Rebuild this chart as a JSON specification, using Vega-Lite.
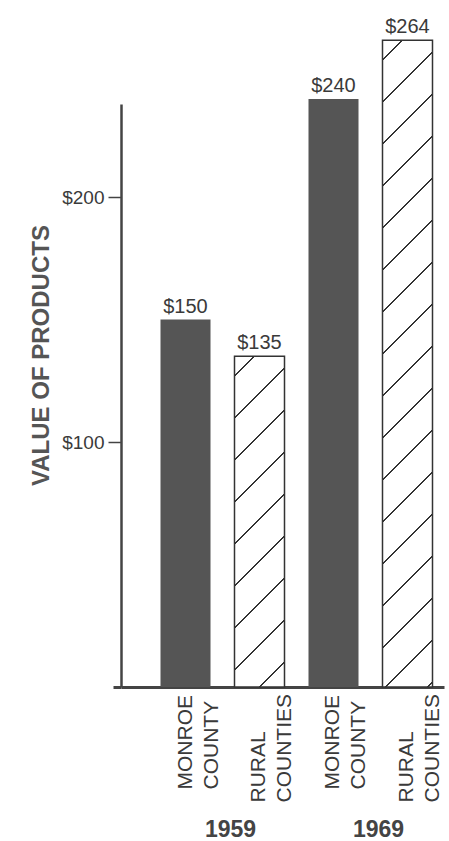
{
  "$schema": "https://vega.github.io/schema/vega-lite/v6.json",
  "width": 323,
  "height": 583,
  "autosize": {"type": "none"},
  "padding": {"left": 121, "top": 104, "right": 5, "bottom": 154},
  "background": "white",
  "config": {"view": {"stroke": null}, "font": "Liberation Sans", "axis": {"grid": false}},
  "datasets": {
    "bars": [
      {"cat": "1959 Monroe", "year": "1959", "area": "Monroe", "value": 150},
      {"cat": "1959 Rural", "year": "1959", "area": "Rural", "value": 135},
      {"cat": "1969 Monroe", "year": "1969", "area": "Monroe", "value": 240},
      {"cat": "1969 Rural", "year": "1969", "area": "Rural", "value": 264}
    ],
    "years": [
      {"cat": "1959 Rural", "year": "1959"},
      {"cat": "1969 Rural", "year": "1969"}
    ]
  },
  "data": {"name": "bars"},
  "encoding": {
    "x": {
      "field": "cat",
      "type": "nominal",
      "scale": {"domain": ["1959 Monroe", "1959 Rural", "1969 Monroe", "1969 Rural"], "paddingInner": 0.3243, "paddingOuter": 0.3446, "align": 0.7745},
      "axis": {
        "title": null,
        "labelAngle": 270,
        "labelAlign": "left",
        "labelBaseline": "middle",
        "labelExpr": "indexof(datum.label, 'Monroe') >= 0 ? ['MONROE', 'COUNTY'] : ['RURAL', 'COUNTIES']",
        "labelFont": "Liberation Sans",
        "labelFontSize": 21,
        "labelLineHeight": 26,
        "labelColor": "#3a3a3a",
        "labelPadding": {"condition": {"test": "indexof(datum.label, 'Monroe') >= 0", "value": 102}, "value": 115},
        "labelOverlap": false,
        "labelBound": false,
        "ticks": false,
        "tickSize": 0,
        "domainColor": "#444",
        "domainWidth": 3
      }
    },
    "y": {
      "field": "value",
      "type": "quantitative",
      "scale": {"domain": [0, 238], "nice": false},
      "axis": {
        "title": "VALUE OF PRODUCTS",
        "values": [0, 100, 200],
        "labelExpr": "datum.value == 0 ? '' : '$' + datum.value",
        "labelFont": "Liberation Sans",
        "labelFontSize": 19,
        "labelColor": "#3a3a3a",
        "labelPadding": 4,
        "tickSize": {"condition": {"test": "datum.value == 0", "value": 8}, "value": 13},
        "tickColor": "#444",
        "tickWidth": {"condition": {"test": "datum.value == 0", "value": 3}, "value": 1.5},
        "domainColor": "#444",
        "domainWidth": 2.5,
        "titleFont": "Liberation Sans",
        "titleFontSize": 24,
        "titleFontWeight": "bold",
        "titleColor": "#555",
        "titleX": -80,
        "titleY": 251,
        "titleAngle": 270,
        "titleAlign": "center",
        "titleBaseline": "middle"
      }
    }
  },
  "layer": [
    {
      "transform": [{"filter": "datum.area == 'Monroe'"}],
      "mark": {"type": "bar", "fill": "#555", "stroke": null}
    },
    {
      "transform": [{"filter": "datum.cat == '1959 Rural'"}],
      "mark": {
        "type": "bar",
        "stroke": "#333",
        "strokeWidth": 1.5,
        "fill": {
          "gradient": "linear", "x1": 0, "y1": 0, "x2": 0.1702, "y2": 1.1255,
          "stops": [
            {"offset": 0, "color": "white"},
            {"offset": 0.04965, "color": "white"}, {"offset": 0.04965, "color": "#333"}, {"offset": 0.05542, "color": "#333"}, {"offset": 0.05542, "color": "white"},
            {"offset": 0.15997, "color": "white"}, {"offset": 0.15997, "color": "#333"}, {"offset": 0.16575, "color": "#333"}, {"offset": 0.16575, "color": "white"},
            {"offset": 0.27029, "color": "white"}, {"offset": 0.27029, "color": "#333"}, {"offset": 0.27607, "color": "#333"}, {"offset": 0.27607, "color": "white"},
            {"offset": 0.38061, "color": "white"}, {"offset": 0.38061, "color": "#333"}, {"offset": 0.38639, "color": "#333"}, {"offset": 0.38639, "color": "white"},
            {"offset": 0.49093, "color": "white"}, {"offset": 0.49093, "color": "#333"}, {"offset": 0.49671, "color": "#333"}, {"offset": 0.49671, "color": "white"},
            {"offset": 0.60125, "color": "white"}, {"offset": 0.60125, "color": "#333"}, {"offset": 0.60703, "color": "#333"}, {"offset": 0.60703, "color": "white"},
            {"offset": 0.71157, "color": "white"}, {"offset": 0.71157, "color": "#333"}, {"offset": 0.71735, "color": "#333"}, {"offset": 0.71735, "color": "white"},
            {"offset": 0.8219, "color": "white"}, {"offset": 0.8219, "color": "#333"}, {"offset": 0.82767, "color": "#333"}, {"offset": 0.82767, "color": "white"},
            {"offset": 0.93222, "color": "white"}, {"offset": 0.93222, "color": "#333"}, {"offset": 0.938, "color": "#333"}, {"offset": 0.938, "color": "white"},
            {"offset": 1, "color": "white"}
          ]
        }
      }
    },
    {
      "transform": [{"filter": "datum.cat == '1969 Rural'"}],
      "mark": {
        "type": "bar",
        "stroke": "#333",
        "strokeWidth": 1.5,
        "fill": {
          "gradient": "linear", "x1": 0, "y1": 0, "x2": 0.0828, "y2": 1.0709,
          "stops": [
            {"offset": 0, "color": "white"},
            {"offset": 0.02713, "color": "white"}, {"offset": 0.02713, "color": "#333"}, {"offset": 0.03029, "color": "#333"}, {"offset": 0.03029, "color": "white"},
            {"offset": 0.08741, "color": "white"}, {"offset": 0.08741, "color": "#333"}, {"offset": 0.09057, "color": "#333"}, {"offset": 0.09057, "color": "white"},
            {"offset": 0.1477, "color": "white"}, {"offset": 0.1477, "color": "#333"}, {"offset": 0.15086, "color": "#333"}, {"offset": 0.15086, "color": "white"},
            {"offset": 0.20798, "color": "white"}, {"offset": 0.20798, "color": "#333"}, {"offset": 0.21114, "color": "#333"}, {"offset": 0.21114, "color": "white"},
            {"offset": 0.26826, "color": "white"}, {"offset": 0.26826, "color": "#333"}, {"offset": 0.27142, "color": "#333"}, {"offset": 0.27142, "color": "white"},
            {"offset": 0.32855, "color": "white"}, {"offset": 0.32855, "color": "#333"}, {"offset": 0.33171, "color": "#333"}, {"offset": 0.33171, "color": "white"},
            {"offset": 0.38882, "color": "white"}, {"offset": 0.38882, "color": "#333"}, {"offset": 0.39198, "color": "#333"}, {"offset": 0.39198, "color": "white"},
            {"offset": 0.44911, "color": "white"}, {"offset": 0.44911, "color": "#333"}, {"offset": 0.45227, "color": "#333"}, {"offset": 0.45227, "color": "white"},
            {"offset": 0.50939, "color": "white"}, {"offset": 0.50939, "color": "#333"}, {"offset": 0.51255, "color": "#333"}, {"offset": 0.51255, "color": "white"},
            {"offset": 0.56967, "color": "white"}, {"offset": 0.56967, "color": "#333"}, {"offset": 0.57283, "color": "#333"}, {"offset": 0.57283, "color": "white"},
            {"offset": 0.62995, "color": "white"}, {"offset": 0.62995, "color": "#333"}, {"offset": 0.63311, "color": "#333"}, {"offset": 0.63311, "color": "white"},
            {"offset": 0.69024, "color": "white"}, {"offset": 0.69024, "color": "#333"}, {"offset": 0.6934, "color": "#333"}, {"offset": 0.6934, "color": "white"},
            {"offset": 0.75052, "color": "white"}, {"offset": 0.75052, "color": "#333"}, {"offset": 0.75368, "color": "#333"}, {"offset": 0.75368, "color": "white"},
            {"offset": 0.8108, "color": "white"}, {"offset": 0.8108, "color": "#333"}, {"offset": 0.81396, "color": "#333"}, {"offset": 0.81396, "color": "white"},
            {"offset": 0.87108, "color": "white"}, {"offset": 0.87108, "color": "#333"}, {"offset": 0.87424, "color": "#333"}, {"offset": 0.87424, "color": "white"},
            {"offset": 0.93137, "color": "white"}, {"offset": 0.93137, "color": "#333"}, {"offset": 0.93453, "color": "#333"}, {"offset": 0.93453, "color": "white"},
            {"offset": 0.99165, "color": "white"}, {"offset": 0.99165, "color": "#333"}, {"offset": 0.99481, "color": "#333"}, {"offset": 0.99481, "color": "white"},
            {"offset": 1, "color": "white"}
          ]
        }
      }
    },
    {
      "mark": {"type": "text", "dy": -7, "baseline": "alphabetic", "fontSize": 20, "color": "#3a3a3a", "font": "Liberation Sans"},
      "encoding": {"text": {"field": "value", "type": "quantitative", "format": "$.0f"}}
    },
    {
      "data": {"name": "years"},
      "mark": {"type": "text", "dx": -4, "dy": 143, "baseline": "middle", "align": "center", "fontSize": 23, "fontWeight": "bold", "color": "#444", "font": "Liberation Sans"},
      "encoding": {
        "x": {"field": "cat", "type": "nominal", "bandPosition": 0},
        "y": {"value": "height"},
        "text": {"field": "year", "type": "nominal"}
      }
    }
  ]
}
